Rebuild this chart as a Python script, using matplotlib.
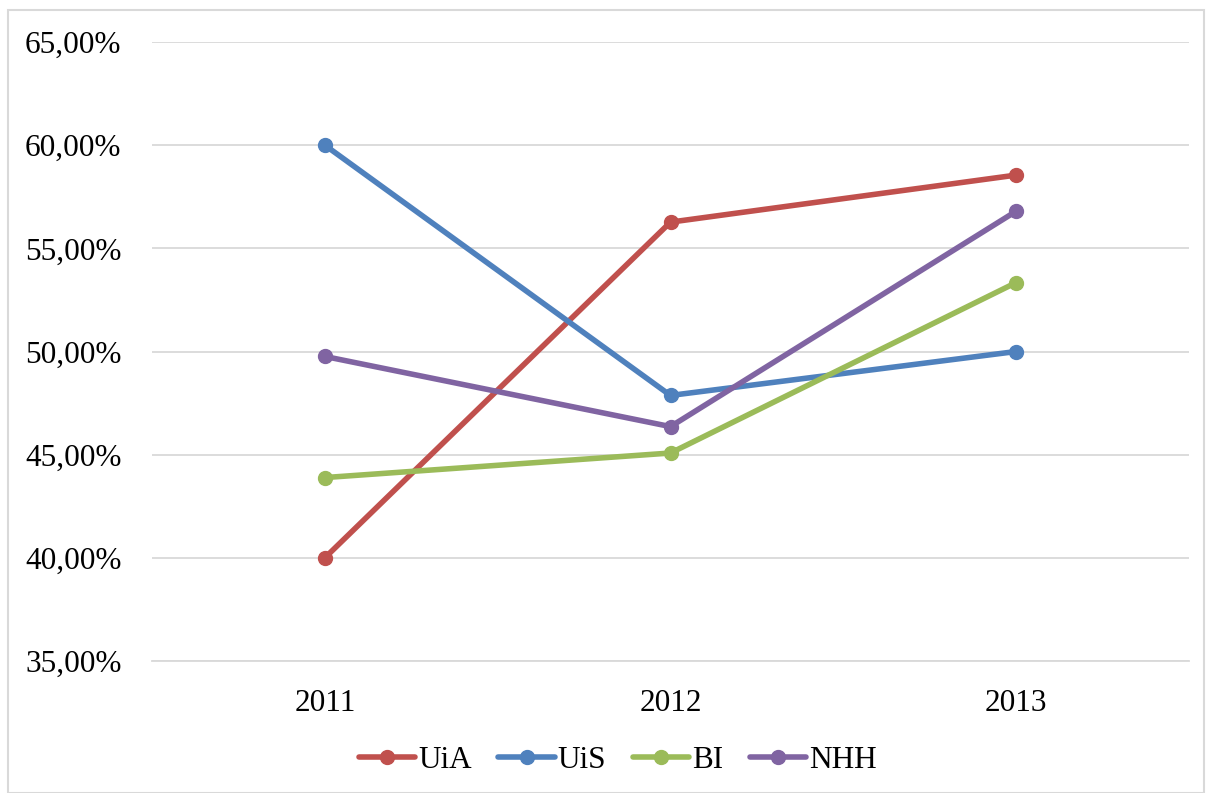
import matplotlib.pyplot as plt
from matplotlib.patches import Rectangle
from matplotlib.ticker import FuncFormatter

# Data
years = ['2011', '2012', '2013']
uia = [40.0, 56.27, 58.55]
uis = [60.0, 47.87, 50.0]
bi = [43.89, 45.08, 53.34]
nhh = [49.76, 46.36, 56.80]

series = [('UiA', uia, '#C0504D'), ('UiS', uis, '#4F81BD'),
          ('BI', bi, '#9BBB59'), ('NHH', nhh, '#8064A2')]

plt.rcParams['font.family'] = ['Liberation Serif', 'DejaVu Serif']

fig = plt.figure(figsize=(12.08, 7.93), dpi=100)
ax = fig.add_axes([152/1208, 1-661/793, (1189-152)/1208, (661-42)/793])

# Border around the chart
fig.patches.append(Rectangle((8/1208, 0), 1196/1208, 1-10/793, transform=fig.transFigure,
                             fill=False, edgecolor='#D9D9D9', linewidth=1.5))

x = range(len(years))
for name, vals, col in series:
    ax.plot(x, vals, color=col, linewidth=4, marker='o', markersize=10,
            label=name, solid_capstyle='round')

ax.set_xlim(-0.5, 2.5)
ax.set_ylim(35, 65)
ax.set_yticks(range(35, 66, 5))
ax.yaxis.set_major_formatter(FuncFormatter(lambda v, p: f'{v:.2f}%'.replace('.', ',')))
ax.set_xticks(list(x))
ax.set_xticklabels(years)
ax.grid(axis='y', color='#D9D9D9', linewidth=1.3)
ax.set_axisbelow(True)
for s in ['top', 'right', 'left']:
    ax.spines[s].set_visible(False)
ax.spines['bottom'].set_color('#D9D9D9')
ax.spines['bottom'].set_linewidth(1.3)
ax.tick_params(length=0, labelsize=22.5)
ax.tick_params(axis='x', pad=20)
ax.tick_params(axis='y', pad=22)

fig.legend(loc='center', bbox_to_anchor=(618/1208, 1-760/793), ncol=4, frameon=False,
           fontsize=22.5, handlelength=1.8, handletextpad=0.1, columnspacing=0.85)

fig.savefig('out.png', dpi=100)
